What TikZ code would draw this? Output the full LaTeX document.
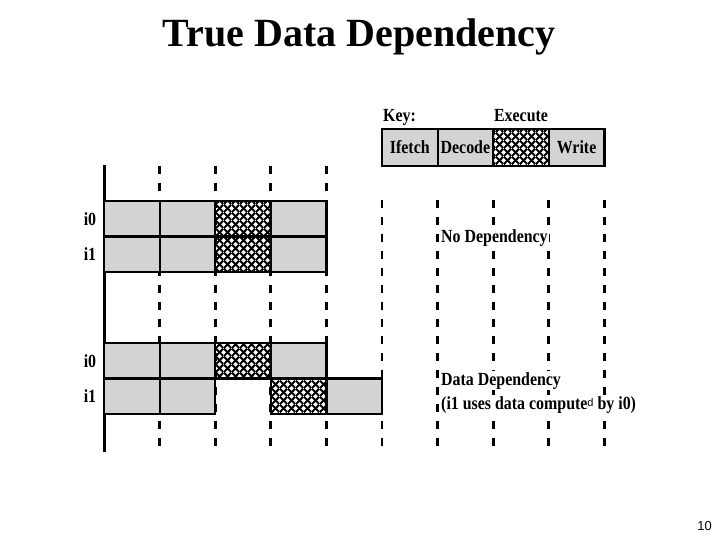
\documentclass[tikz,border=0pt]{standalone}
\usepackage{fontspec}
\setmainfont{Liberation Serif}
\newfontfamily\figfont[FakeStretch=0.86]{Liberation Serif}
\newfontfamily\pnfont{Liberation Sans}
\usetikzlibrary{patterns.meta}
\tikzdeclarepattern{
  name=xhatch,
  type=uncolored,
  bounding box={(0,0) and (8pt,8pt)},
  tile size={(8pt,8pt)},
  code={
    \draw[line width=2.3pt] (0,0) -- (8pt,8pt) (0,8pt) -- (8pt,0);
  }
}
\definecolor{cellgray}{RGB}{211,211,211}
\begin{document}
\begin{tikzpicture}[x=1pt,y=-1pt,
  cell/.style={draw=black, line width=2.2pt, fill=cellgray, minimum width=55.6pt, minimum height=35.5pt, anchor=north west, inner sep=0, outer sep=0},
  exec/.style={draw=black, line width=2.2pt, fill=white, pattern=xhatch, pattern color=black, minimum width=55.6pt, minimum height=35.5pt, anchor=north west, inner sep=0, outer sep=0},
  keycell/.style={cell, minimum height=37pt, font=\figfont\bfseries\fontsize{18.5}{21}\selectfont},
  keyexec/.style={exec, minimum height=37pt},
  gridline/.style={line width=2.8pt, dash pattern=on 8pt off 9pt},
  axis/.style={line width=3pt},
  lbl/.style={font=\figfont\bfseries\fontsize{18.5}{21}\selectfont, inner sep=0},
  title/.style={font=\bfseries\fontsize{40}{44}\selectfont, inner sep=0},
  pageno/.style={font=\pnfont\fontsize{13}{15}\selectfont, inner sep=0}
]
\useasboundingbox (0,0) rectangle (720,540);

% title
\node[title, anchor=base] (title) at (359,47) {True Data Dependency};

% grid coordinates
\coordinate (g1t) at (159.6,166); \coordinate (g1b) at (159.6,447);
\coordinate (g2t) at (215.2,166); \coordinate (g2b) at (215.2,447);
\coordinate (g3t) at (270.8,166); \coordinate (g3b) at (270.8,447);
\coordinate (g4t) at (326.4,166); \coordinate (g4b) at (326.4,447);
\coordinate (g5t) at (382,200);   \coordinate (g5b) at (382,447);
\coordinate (g6t) at (437.6,200); \coordinate (g6b) at (437.6,447);
\coordinate (g7t) at (493.2,200); \coordinate (g7b) at (493.2,447);
\coordinate (g8t) at (548.8,200); \coordinate (g8b) at (548.8,447);
\coordinate (g9t) at (604.4,200); \coordinate (g9b) at (604.4,447);
\coordinate (axt) at (104,165);   \coordinate (axb) at (104,452);

\foreach \i in {1,...,9} { \draw[gridline] (g\i t) -- (g\i b); }
\draw[axis] (axt) -- (axb);

% No dependency rows
\node[cell] (a1) at (104,201) {};
\node[cell] (a2) at (159.6,201) {};
\node[exec] (a3) at (215.2,201) {};
\node[cell] (a4) at (270.8,201) {};
\node[cell] (b1) at (104,236.5) {};
\node[cell] (b2) at (159.6,236.5) {};
\node[exec] (b3) at (215.2,236.5) {};
\node[cell] (b4) at (270.8,236.5) {};

% Data dependency rows
\node[cell] (c1) at (104,343) {};
\node[cell] (c2) at (159.6,343) {};
\node[exec] (c3) at (215.2,343) {};
\node[cell] (c4) at (270.8,343) {};
\node[cell] (d1) at (104,378.5) {};
\node[cell] (d2) at (159.6,378.5) {};
\node[exec] (d3) at (270.8,378.5) {};
\node[cell] (d4) at (326.4,378.5) {};

% row labels
\node[lbl] (l1) at (90,218.75) {i0};
\node[lbl] (l2) at (90,254.25) {i1};
\node[lbl] (l3) at (90,360.75) {i0};
\node[lbl] (l4) at (90,396.25) {i1};

% key
\node[lbl, anchor=base west] (key) at (383,122) {Key:};
\node[lbl, anchor=base] (exlabel) at (521,122) {Execute};
\node[keycell] (k1) at (382,129) {Ifetch};
\node[keycell] (k2) at (437.6,129) {Decode};
\node[keyexec] (k3) at (493.2,129) {};
\node[keycell] (k4) at (548.8,129) {Write};

% annotations
\node[lbl, anchor=base west, fill=white, inner sep=1pt] (nodep) at (440,242) {No Dependency};
\node[lbl, anchor=base west, fill=white, inner sep=1pt] (dadep) at (440,385) {Data Dependency};
\node[lbl, anchor=base west, fill=white, inner sep=1pt] (dadep2) at (440,409) {(i1 uses data compute{\mdseries\pnfont\fontsize{11}{12}\selectfont\raisebox{3pt}{d}} by i0)};

% page number
\node[pageno, anchor=base east] (pn) at (712,530) {10};
\end{tikzpicture}
\end{document}
